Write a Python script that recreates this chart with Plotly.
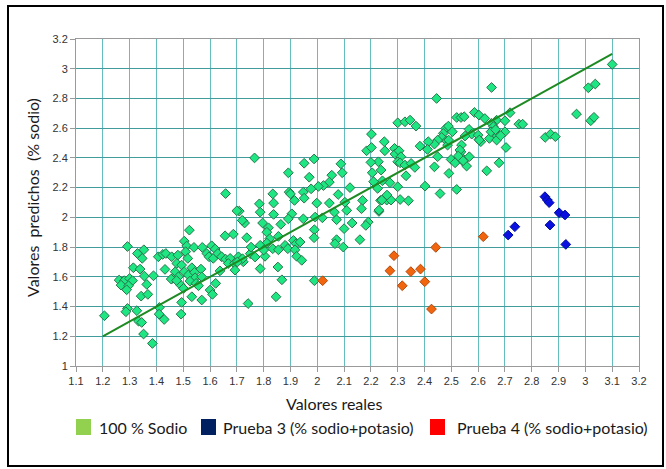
import plotly.graph_objects as go

# 100 % Sodio: real vs predicted values
sodio_real = [
    1.206, 1.292, 1.329, 1.353, 1.347, 1.407, 1.424, 1.435, 1.457, 1.480,
    1.504, 1.513, 1.509, 1.540, 1.517, 1.571, 1.606, 1.619, 1.588, 1.596,
    1.612, 1.629, 1.643, 1.658, 1.675, 1.668, 1.691, 1.706, 1.724, 1.523,
    1.656, 1.687, 1.722, 1.314, 1.339, 1.355, 1.389, 1.432, 1.476, 1.494,
    1.470, 1.460, 1.482, 1.488, 1.501, 1.504, 1.519, 1.532, 1.542, 1.544,
    1.525, 1.566, 1.548, 1.557, 1.569, 1.600, 1.621, 1.609, 1.569, 1.532,
    1.494, 1.492, 1.261, 1.280, 1.300, 1.311, 1.268, 1.296, 1.289, 1.364,
    1.343, 1.368, 1.292, 1.286, 1.327, 1.333, 1.345, 1.352, 1.385, 1.411,
    1.410, 1.429, 1.693, 1.637, 1.658, 1.742, 1.455, 1.475,
    1.766, 1.988, 1.951, 1.892, 1.970, 2.088, 2.093, 2.054, 2.045, 2.023,
    2.004, 1.977, 1.895, 1.900, 1.834, 1.837, 1.915, 1.948, 1.951, 1.998,
    2.045, 2.078, 2.122, 2.110, 2.103, 2.169, 2.165, 2.190, 2.181, 2.230,
    2.236, 1.709, 1.784, 1.787, 1.837, 1.905, 1.892, 1.864, 1.948, 1.992,
    2.019, 2.064, 2.072, 2.100, 2.130, 2.072, 2.066, 2.097, 2.159, 1.989,
    1.988, 1.729, 1.737, 1.796, 1.818, 1.812, 1.855, 1.822, 1.812, 1.787,
    1.750, 1.721, 1.702, 1.834, 1.855, 1.880, 1.890, 1.911, 1.921, 1.936,
    1.917, 1.923, 1.942, 1.805, 1.768, 1.787, 1.853, 1.868, 1.989, 1.753,
    1.846, 1.700, 1.720, 1.800,
    2.650, 2.445, 2.300, 2.327, 2.346, 2.368, 2.520, 2.536, 2.548, 2.586,
    2.603, 2.625, 2.669, 2.700, 2.719, 2.752, 2.766, 2.479, 2.489, 2.504,
    2.470, 2.464, 2.482, 2.449, 2.437, 2.414, 2.411, 2.383, 2.250, 2.252,
    2.228, 2.238, 2.288, 2.290, 2.305, 2.312, 2.300, 2.309, 2.327, 2.350,
    2.364, 2.331, 2.300, 2.243, 2.225, 2.271, 2.259, 2.275, 2.309, 2.340,
    2.230, 2.402, 2.458, 2.520, 2.437, 2.449, 2.491, 2.499, 2.514, 2.536,
    2.545, 2.567, 2.536, 2.557, 2.632, 2.678, 2.704, 2.700, 2.669, 2.657,
    2.650, 2.642, 2.566, 2.576, 2.551, 2.603, 2.600, 2.610, 2.486,
    2.184, 2.202, 2.202, 2.200, 2.205, 2.210, 2.241, 2.260,
    3.100, 3.011, 3.037, 2.967, 3.020, 3.032, 2.850, 2.870, 2.888, 2.671,
    2.657, 2.604, 2.490, 2.538, 2.532, 2.526, 2.544, 2.648, 2.669, 2.684,
    2.665,
]
sodio_pred = [
    1.338, 1.804, 1.757, 1.782, 1.724, 1.735, 1.751, 1.757, 1.735, 1.746,
    1.840, 1.807, 1.769, 1.798, 1.724, 1.798, 1.809, 1.787, 1.757, 1.735,
    1.724, 1.757, 1.735, 1.719, 1.724, 1.690, 1.690, 1.735, 1.701, 1.914,
    1.876, 1.887, 1.977, 1.661, 1.652, 1.605, 1.607, 1.650, 1.690, 1.679,
    1.634, 1.589, 1.600, 1.549, 1.522, 1.634, 1.612, 1.661, 1.630, 1.594,
    1.571, 1.652, 1.556, 1.540, 1.600, 1.511, 1.556, 1.482, 1.444, 1.466,
    1.428, 1.349, 1.578, 1.574, 1.589, 1.574, 1.544, 1.540, 1.513, 1.549,
    1.470, 1.482, 1.387, 1.365, 1.372, 1.302, 1.293, 1.215, 1.152, 1.394,
    1.349, 1.313, 1.645, 1.640, 2.160, 1.420, 1.585, 1.575,
    2.400, 2.393, 2.364, 2.300, 2.270, 2.360, 2.300, 2.284, 2.237, 2.214,
    2.208, 2.192, 2.170, 2.158, 2.158, 2.096, 2.114, 2.170, 2.129, 2.096,
    2.096, 2.154, 2.200, 2.047, 2.102, 2.114, 2.058, 1.968, 1.946, 2.040,
    2.114, 2.042, 2.091, 2.035, 2.020, 2.024, 1.990, 1.953, 1.990, 2.002,
    1.997, 2.035, 1.984, 1.924, 1.962, 1.850, 1.823, 1.800, 1.850, 1.917,
    1.863, 1.962, 1.863, 1.962, 1.930, 1.900, 1.872, 1.856, 1.827, 1.812,
    1.756, 1.722, 1.700, 1.789, 1.782, 1.812, 1.789, 1.845, 1.823, 1.834,
    1.782, 1.738, 1.711, 1.738, 1.733, 1.655, 1.666, 1.580, 1.574, 1.800,
    1.466, 2.044, 1.980, 1.780,
    2.874, 2.800, 2.636, 2.643, 2.654, 2.614, 2.672, 2.672, 2.677, 2.706,
    2.688, 2.665, 2.654, 2.650, 2.704, 2.627, 2.627, 2.598, 2.614, 2.576,
    2.565, 2.538, 2.515, 2.520, 2.493, 2.509, 2.457, 2.479, 2.509, 2.448,
    2.374, 2.318, 2.464, 2.426, 2.448, 2.408, 2.374, 2.367, 2.352, 2.363,
    2.336, 2.280, 2.206, 2.246, 2.195, 2.233, 2.116, 2.116, 2.120, 2.112,
    2.049, 2.210, 2.160, 2.188, 2.340, 2.408, 2.296, 2.390, 2.367, 2.408,
    2.374, 2.408, 2.441, 2.345, 2.313, 2.367, 2.470, 2.576, 2.565, 2.587,
    2.632, 2.531, 2.592, 2.560, 2.547, 2.524, 2.553, 2.509, 2.486,
    2.448, 2.470, 2.560, 2.370, 2.300, 2.240, 2.116, 2.150,
    3.029, 2.872, 2.897, 2.695, 2.650, 2.673, 2.538, 2.560, 2.543, 2.547,
    2.610, 2.520, 2.520, 2.487, 2.453, 2.413, 2.381, 2.576, 2.520, 2.550,
    2.590,
]

# Prueba 3 (% sodio+potasio)
prueba3_real = [2.712, 2.737, 2.849, 2.858, 2.865, 2.902, 2.924, 2.868, 2.927]
prueba3_pred = [1.881, 1.937, 2.139, 2.117, 2.099, 2.031, 2.016, 1.948, 1.818]

# Prueba 4 (% sodio+potasio)
prueba4_real = [2.020, 2.271, 2.286, 2.317, 2.349, 2.385, 2.401, 2.426, 2.442, 2.619]
prueba4_pred = [1.574, 1.641, 1.742, 1.540, 1.635, 1.652, 1.567, 1.383, 1.798, 1.870]

# fitted line
fit_x = [1.2, 3.1]
fit_y = [1.2, 3.1]

x_ticks = [1.1, 1.2, 1.3, 1.4, 1.5, 1.6, 1.7, 1.8, 1.9, 2.0, 2.1,
           2.2, 2.3, 2.4, 2.5, 2.6, 2.7, 2.8, 2.9, 3.0, 3.1, 3.2]
x_tick_labels = ["1.1", "1.2", "1.3", "1.4", "1.5", "1.6", "1.7", "1.8", "1.9", "2", "2.1",
                 "2.2", "2.3", "2.4", "2.5", "2.6", "2.7", "2.8", "2.9", "3", "3.1", "3.2"]
y_ticks = [1.0, 1.2, 1.4, 1.6, 1.8, 2.0, 2.2, 2.4, 2.6, 2.8, 3.0, 3.2]
y_tick_labels = ["1", "1.2", "1.4", "1.6", "1.8", "2", "2.2", "2.4", "2.6", "2.8", "3", "3.2"]

legend_labels = ["100 % Sodio", "Prueba 3 (% sodio+potasio)", "Prueba 4 (% sodio+potasio)"]
legend_colors = ["#92D050", "#002060", "#FF0000"]

W, H = 666, 469
L, R, T, B = 76, 27, 39, 103
PW, PH = W - L - R, H - T - B


def px_x(p):
    return (p - L) / PW


def px_y(p):
    return (H - B - p) / PH


fig = go.Figure()

fig.add_trace(go.Scatter(
    x=sodio_real, y=sodio_pred, mode="markers",
    marker=dict(symbol="diamond", size=7.5, color="#1DE683",
                line=dict(color="#2A744A", width=1)),
    showlegend=False, cliponaxis=False,
))
fig.add_trace(go.Scatter(
    x=fit_x, y=fit_y, mode="lines",
    line=dict(color="#1E8A22", width=2), showlegend=False,
))
fig.add_trace(go.Scatter(
    x=prueba3_real, y=prueba3_pred, mode="markers",
    marker=dict(symbol="diamond", size=7.5, color="#0A10E0",
                line=dict(color="#00109A", width=1)),
    showlegend=False,
))
fig.add_trace(go.Scatter(
    x=prueba4_real, y=prueba4_pred, mode="markers",
    marker=dict(symbol="diamond", size=7.5, color="#F2650F",
                line=dict(color="#B24708", width=1)),
    showlegend=False,
))

shapes = []
annotations = []

# outer frame
shapes.append(dict(type="rect", xref="paper", yref="paper",
                   x0=px_x(8), x1=px_x(663), y0=px_y(466), y1=px_y(6),
                   line=dict(color="black", width=2), layer="below"))

# legend swatches and labels
legend_pos = [(76, 97), (201, 221), (430, 455)]
for (sx, tx), label, col in zip(legend_pos, legend_labels, legend_colors):
    shapes.append(dict(type="rect", xref="paper", yref="paper",
                       x0=px_x(sx), x1=px_x(sx + 15), y0=px_y(435), y1=px_y(419),
                       fillcolor=col, line=dict(width=0)))
    annotations.append(dict(text=label, xref="paper", yref="paper",
                            x=px_x(tx), y=px_y(427), xanchor="left", yanchor="middle",
                            showarrow=False,
                            font=dict(family="Lato", size=16, color="#1a1a1a")))

annotations.append(dict(text="Valores reales", xref="paper", yref="paper",
                        x=px_x(334), y=px_y(403), xanchor="center", yanchor="middle",
                        showarrow=False, font=dict(family="Lato", size=16, color="#1a1a1a")))
annotations.append(dict(text="Valores  predichos  (% sodio)", xref="paper", yref="paper",
                        x=px_x(32), y=px_y(198), xanchor="center", yanchor="middle",
                        textangle=-90, showarrow=False,
                        font=dict(family="Lato", size=16, color="#1a1a1a")))

axis_common = dict(
    showline=True, linecolor="#9a9a9a", linewidth=1, mirror=True,
    ticks="outside", tickcolor="#9a9a9a", ticklen=5,
    tickfont=dict(family="Liberation Sans", size=11, color="#333333"),
    zeroline=False,
)

fig.update_layout(
    width=W, height=H,
    margin=dict(l=L, r=R, t=T, b=B),
    paper_bgcolor="white", plot_bgcolor="white",
    shapes=shapes, annotations=annotations,
    xaxis=dict(range=[1.1, 3.2], tickvals=x_ticks, ticktext=x_tick_labels,
               gridcolor="#66BDBD", gridwidth=1, **axis_common),
    yaxis=dict(range=[1.0, 3.2], tickvals=y_ticks, ticktext=y_tick_labels,
               gridcolor="#429C9C", gridwidth=1, **axis_common),
)

fig.write_html("out.html")
